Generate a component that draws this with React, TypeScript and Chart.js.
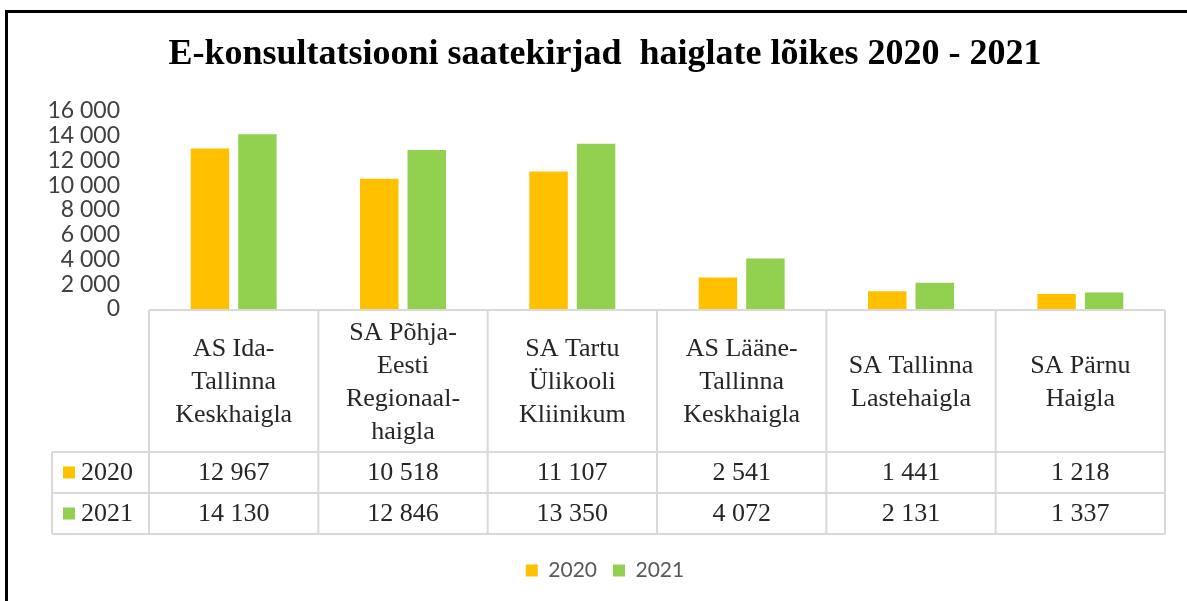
import React, { useEffect, useRef } from 'react';
import { Chart, registerables } from 'chart.js';

Chart.register(...registerables);

// ---- data ----
const titleText = 'E-konsultatsiooni saatekirjad  haiglate lõikes 2020 - 2021';
const categories: string[][] = [
  ['AS Ida-', 'Tallinna', 'Keskhaigla'],
  ['SA Põhja-', 'Eesti', 'Regionaal-', 'haigla'],
  ['SA Tartu', 'Ülikooli', 'Kliinikum'],
  ['AS Lääne-', 'Tallinna', 'Keskhaigla'],
  ['SA Tallinna', 'Lastehaigla'],
  ['SA Pärnu', 'Haigla'],
];
const seriesLabels = ['2020', '2021'];
const values2020 = [12967, 10518, 11107, 2541, 1441, 1218];
const values2021 = [14130, 12846, 13350, 4072, 2131, 1337];
const seriesColors = ['#FFC000', '#92D050'];
const yMin = 0;
const yMax = 16000;
const yStep = 2000;

const fmt = (v: number) => String(v).replace(/\B(?=(\d{3})+(?!\d))/g, ' ');

const seriesValues = [values2020, values2021];

const tablePlugin = {
  id: 'dataTable',
  afterDraw(chart: any) {
    const { ctx, chartArea: a } = chart;
    const x = chart.scales.x;
    const n = categories.length;
    const edges: number[] = [];
    for (let i = 0; i <= n; i++) {
      if (i === 0) edges.push(a.left);
      else if (i === n) edges.push(a.right);
      else edges.push((x.getPixelForValue(i - 1) + x.getPixelForValue(i)) / 2);
    }
    const top = a.bottom + 1;
    const headBottom = a.bottom + 143;
    const rowH = 41;
    const bottom = headBottom + rowH * seriesLabels.length;
    const rowHeadLeft = 52;

    ctx.save();
    ctx.strokeStyle = '#d9d9d9';
    ctx.lineWidth = 2;
    ctx.beginPath();
    ctx.moveTo(a.left, top);
    ctx.lineTo(a.right, top);
    edges.forEach((e) => {
      ctx.moveTo(e, top);
      ctx.lineTo(e, bottom);
    });
    ctx.moveTo(rowHeadLeft, headBottom);
    ctx.lineTo(rowHeadLeft, bottom);
    for (let r = 0; r <= seriesLabels.length; r++) {
      const y = headBottom + r * rowH;
      ctx.moveTo(rowHeadLeft, y);
      ctx.lineTo(a.right, y);
    }
    ctx.stroke();

    ctx.font = '26px "Liberation Serif"';
    ctx.fillStyle = '#262626';
    ctx.textBaseline = 'middle';
    seriesLabels.forEach((lab, r) => {
      const cy = headBottom + r * rowH + rowH / 2;
      ctx.fillStyle = seriesColors[r];
      ctx.fillRect(63, cy - 6, 12, 12);
      ctx.fillStyle = '#262626';
      ctx.textAlign = 'left';
      ctx.fillText(lab, 81, cy + 1);
      ctx.textAlign = 'center';
      seriesValues[r].forEach((v, i) => {
        ctx.fillText(fmt(v), x.getPixelForValue(i), cy + 1);
      });
    });
    ctx.restore();
  },
};

export default function App() {
  const ref = useRef<HTMLCanvasElement>(null);

  useEffect(() => {
    const chart = new Chart(ref.current as HTMLCanvasElement, {
      type: 'bar',
      data: {
        labels: categories as any,
        datasets: seriesLabels.map((lab, i) => ({
          label: lab,
          data: seriesValues[i],
          backgroundColor: seriesColors[i],
          borderWidth: 0,
          categoryPercentage: 0.561,
          barPercentage: 0.81,
        })),
      },
      options: {
        responsive: false,
        animation: false,
        layout: { padding: { left: 45, right: 22, top: 0, bottom: 10 } },
        plugins: {
          title: {
            display: true,
            text: titleText,
            color: '#000',
            font: { family: 'Liberation Serif', size: 36, weight: 'bold', lineHeight: 1.2 },
            padding: { top: 33, bottom: 34.8 },
          },
          legend: {
            position: 'bottom',
            labels: {
              color: '#595959',
              font: { family: 'Lato', size: 21 },
              boxWidth: 12,
              boxHeight: 12,
              padding: 16,
            },
          },
          tooltip: { enabled: false },
        },
        scales: {
          x: {
            grid: { display: false, drawTicks: false },
            border: { display: false },
            ticks: {
              autoSkip: false,
              maxRotation: 0,
              minRotation: 0,
              crossAlign: 'center',
              padding: 24,
              color: '#262626',
              font: { family: 'Liberation Serif', size: 26, lineHeight: 33 / 26 },
            },
            afterFit(s: any) {
              s.height = 235;
            },
          },
          y: {
            min: yMin,
            max: yMax,
            grid: { display: false, drawTicks: false },
            border: { display: false },
            ticks: {
              stepSize: yStep,
              autoSkip: false,
              padding: 29,
              color: '#404040',
              font: { family: 'Lato', size: 23, lineHeight: 1 },
              callback: (v: any) => fmt(Number(v)),
            },
            afterFit(s: any) {
              s.width = 104;
            },
          },
        },
      } as any,
      plugins: [tablePlugin],
    });
    return () => chart.destroy();
  }, []);

  return (
    <div
      style={{
        position: 'fixed',
        left: 0,
        top: 0,
        width: 1187,
        height: 601,
        overflow: 'hidden',
        background: '#fff',
      }}
    >
      <canvas
        ref={ref}
        width={1187}
        height={601}
        style={{ position: 'absolute', left: 0, top: 0, width: 1187, height: 601 }}
      />
      <div
        style={{
          position: 'absolute',
          left: 5,
          top: 10,
          width: 1400,
          height: 800,
          borderLeft: '3px solid #000',
          borderTop: '3px solid #000',
          pointerEvents: 'none',
        }}
      />
    </div>
  );
}
